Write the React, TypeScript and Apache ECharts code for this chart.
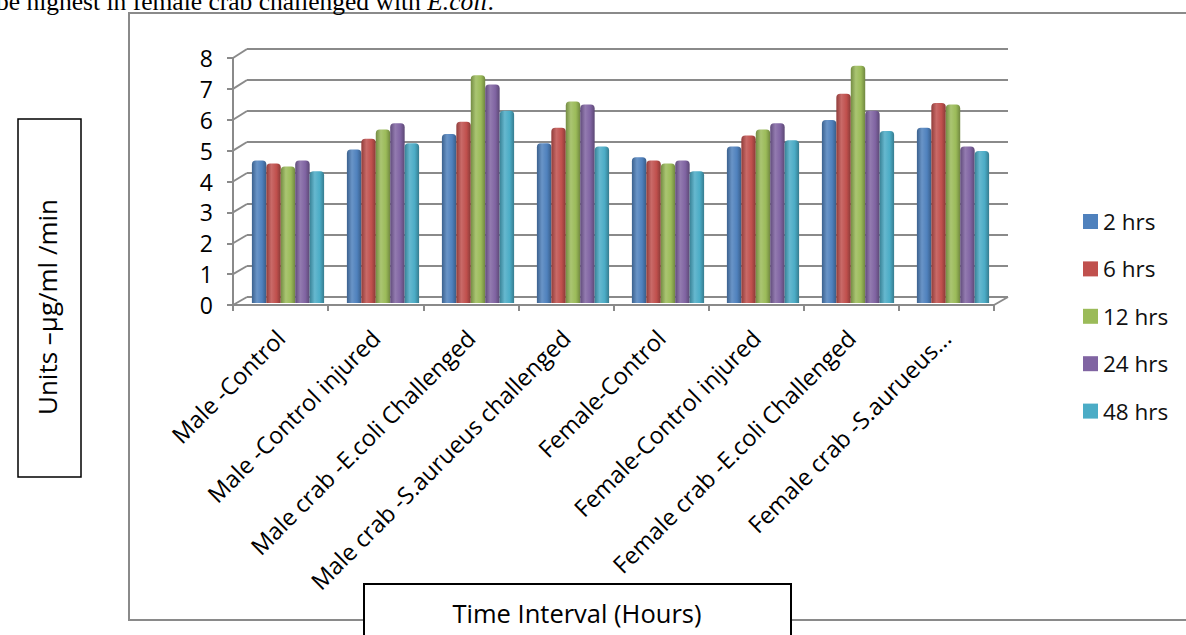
import React, { useEffect, useRef } from "react";
import * as echarts from "echarts";

const categories = [
  "Male -Control",
  "Male -Control injured",
  "Male crab -E.coli Challenged",
  "Male crab -S.aurueus challenged",
  "Female-Control",
  "Female-Control injured",
  "Female crab -E.coli Challenged",
  "Female crab -S.aurueus...",
];
const seriesNames = ["2 hrs", "6 hrs", "12 hrs", "24 hrs", "48 hrs"];
const hrs2 = [4.6, 4.95, 5.45, 5.15, 4.7, 5.05, 5.9, 5.65];
const hrs6 = [4.5, 5.3, 5.85, 5.65, 4.6, 5.4, 6.75, 6.45];
const hrs12 = [4.4, 5.6, 7.35, 6.5, 4.5, 5.6, 7.65, 6.4];
const hrs24 = [4.6, 5.8, 7.05, 6.4, 4.6, 5.8, 6.2, 5.05];
const hrs48 = [4.25, 5.15, 6.2, 5.05, 4.25, 5.25, 5.55, 4.9];
const seriesValues = [hrs2, hrs6, hrs12, hrs24, hrs48];
const colors = ["#4F81BD", "#C0504D", "#9BBB59", "#8064A2", "#4BACC6"];
const yMin = 0;
const yMax = 8;
const yInterval = 1;
const yTicks = [0, 1, 2, 3, 4, 5, 6, 7, 8];

const W = 1186;
const H = 635;
const FONT = "'Open Sans', sans-serif";
const GRAY = "#8a8a8a";

// front (axis) plane
const front = { left: 233, right: 994, top: 58, bottom: 305 };
// back wall plane
const back = { left: 247, right: 1008, top: 49, bottom: 297 };
// bar plane
const bars = { left: 240.5, right: 1000.5, top: 55, bottom: 303 };

function mix(hex: string, target: number, t: number) {
  const n = parseInt(hex.slice(1), 16);
  const r = (n >> 16) & 255, g = (n >> 8) & 255, b = n & 255;
  const f = (c: number) => Math.round(c + (target - c) * t);
  return `rgb(${f(r)},${f(g)},${f(b)})`;
}

export default function App() {
  const ref = useRef<HTMLDivElement>(null);
  useEffect(() => {
    if (!ref.current) return;
    const chart = echarts.init(ref.current, undefined, { renderer: "svg" });

    const frontY = (v: number) => front.bottom - ((v - yMin) / (yMax - yMin)) * (front.bottom - front.top);
    const backY = (v: number) => back.bottom - ((v - yMin) / (yMax - yMin)) * (back.bottom - back.top);

    const connectors = yTicks.map((v) => ({
      type: "line",
      z: 1,
      shape: { x1: front.left, y1: frontY(v), x2: back.left, y2: backY(v) },
      style: { stroke: GRAY, lineWidth: 2 },
    }));

    const option: any = {
      animation: false,
      backgroundColor: "#ffffff",
      textStyle: { fontFamily: FONT },
      grid: [
        { left: front.left, width: front.right - front.left, top: front.top, height: front.bottom - front.top, containLabel: false },
        { left: back.left, width: back.right - back.left, top: back.top, height: back.bottom - back.top, containLabel: false },
        { left: bars.left, width: bars.right - bars.left, top: bars.top, height: bars.bottom - bars.top, containLabel: false },
      ],
      xAxis: [
        {
          type: "category",
          gridIndex: 0,
          data: categories,
          axisLine: { show: true, lineStyle: { color: GRAY, width: 2 } },
          axisTick: { show: true, length: 6, lineStyle: { color: GRAY, width: 2 } },
          axisLabel: { interval: 0, rotate: 45, margin: 29, fontSize: 23.5, color: "#000", fontFamily: FONT },
          splitLine: { show: false },
        },
        { type: "category", gridIndex: 1, data: categories, show: false },
        { type: "category", gridIndex: 2, data: categories, show: false },
      ],
      yAxis: [
        {
          type: "value",
          gridIndex: 0,
          min: yMin,
          max: yMax,
          interval: yInterval,
          axisLine: { show: true, lineStyle: { color: GRAY, width: 2 } },
          axisTick: { show: true, length: 6, lineStyle: { color: GRAY, width: 2 } },
          axisLabel: { margin: 20, fontSize: 23, color: "#000", fontFamily: FONT },
          splitLine: { show: false },
        },
        {
          type: "value",
          gridIndex: 1,
          min: yMin,
          max: yMax,
          interval: yInterval,
          axisLine: { show: false },
          axisTick: { show: false },
          axisLabel: { show: false },
          splitLine: { show: true, lineStyle: { color: GRAY, width: 2 } },
        },
        { type: "value", gridIndex: 2, min: yMin, max: yMax, interval: yInterval, show: false, splitLine: { show: false } },
      ],
      legend: {
        orient: "vertical",
        left: 1078,
        top: 205,
        itemWidth: 15,
        itemHeight: 15,
        itemGap: 24.4,
        icon: "rect",
        textStyle: { fontSize: 22.5, color: "#111", fontFamily: FONT, padding: [0, 0, 0, 0] },
        data: seriesNames.map((n, i) => ({ name: n, itemStyle: { color: colors[i] } })),
      },
      series: seriesNames.map((name, i) => ({
        name,
        type: "bar",
        xAxisIndex: 2,
        yAxisIndex: 2,
        barGap: "0%",
        barCategoryGap: "24%",
        data: seriesValues[i],
        itemStyle: {
          borderRadius: [4, 4, 0, 0],
          color: new echarts.graphic.LinearGradient(0, 0, 1, 0, [
            { offset: 0, color: mix(colors[i], 0, 0.25) },
            { offset: 0.35, color: mix(colors[i], 255, 0.15) },
            { offset: 0.7, color: colors[i] },
            { offset: 1, color: mix(colors[i], 0, 0.28) },
          ]),
        },
      })),
      graphic: [
        {
          type: "rect",
          z: -10,
          shape: { x: 129, y: 13, width: 1080, height: 607 },
          style: { fill: "#ffffff", stroke: GRAY, lineWidth: 2 },
        },
        {
          type: "text",
          x: -4,
          y: -12,
          style: {
            text: "{n|be highest in female crab challenged with }{i|E.coli}{n|.}",
            rich: {
              n: { fontFamily: "'Liberation Serif', serif", fontSize: 25.5, fill: "#000" },
              i: { fontFamily: "'Liberation Serif', serif", fontSize: 25.5, fontStyle: "italic", fill: "#000" },
            },
            fill: "#000",
          },
        },
        ...connectors,
        {
          type: "line",
          z: 1,
          shape: { x1: front.right, y1: front.bottom, x2: back.right, y2: back.bottom },
          style: { stroke: GRAY, lineWidth: 2 },
        },
        {
          type: "rect",
          z: 100,
          shape: { x: 18, y: 119, width: 63, height: 358 },
          style: { fill: "#ffffff", stroke: "#000", lineWidth: 1.5 },
        },
        {
          type: "text",
          z: 101,
          x: 47,
          y: 307,
          rotation: Math.PI / 2,
          style: {
            text: "Units \u2013\u00b5g/ml /min",
            fontFamily: FONT,
            fontSize: 26,
            fill: "#000",
            align: "center",
            verticalAlign: "middle",
          },
        },
        {
          type: "rect",
          z: 100,
          shape: { x: 364, y: 584, width: 427, height: 60 },
          style: { fill: "#ffffff", stroke: "#000", lineWidth: 2 },
        },
        {
          type: "text",
          z: 101,
          x: 577,
          y: 613,
          style: {
            text: "Time Interval (Hours)",
            fontFamily: FONT,
            fontSize: 25.5,
            fill: "#000",
            align: "center",
            verticalAlign: "middle",
          },
        },
      ],
    };
    chart.setOption(option);
    return () => chart.dispose();
  }, []);
  return (
    <div
      ref={ref}
      style={{ position: "absolute", left: 0, top: 0, width: W, height: H, background: "#fff" }}
    />
  );
}
